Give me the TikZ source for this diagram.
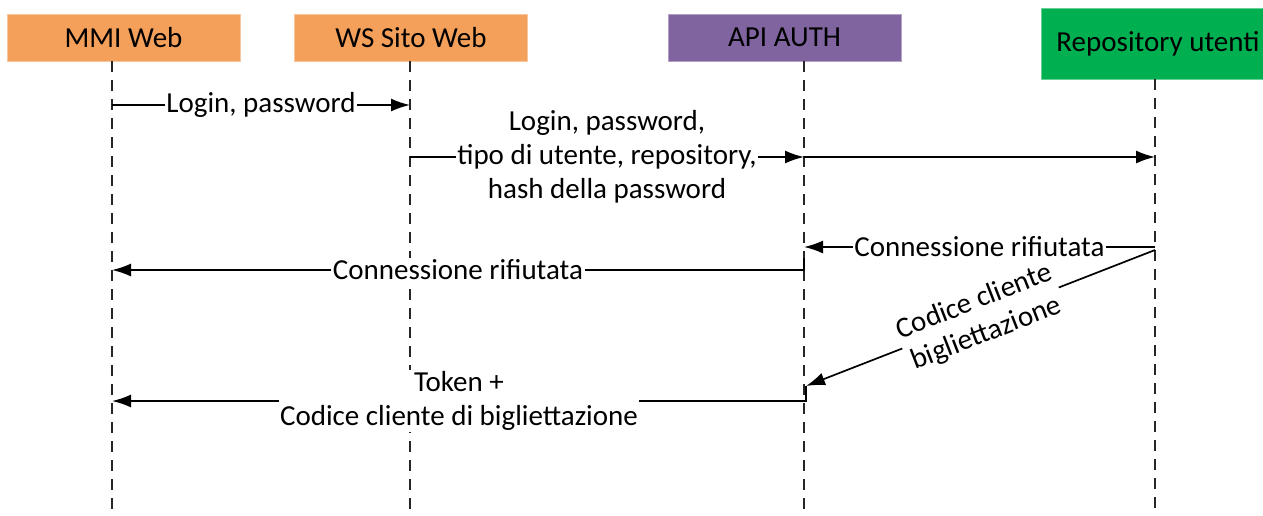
\documentclass[tikz,border=0pt]{standalone}
\usepackage{fontspec}
\setmainfont{Carlito}
\usetikzlibrary{arrows.meta}

\definecolor{wsorange}{RGB}{244,160,90}
\definecolor{authpurple}{RGB}{128,100,160}
\definecolor{repogreen}{RGB}{0,176,80}

\tikzset{
  actor/.style={minimum height=47pt, minimum width=233pt, inner sep=0pt, line width=0.8pt,
    font=\fontsize{29}{34}\selectfont},
  lifeline/.style={line width=1.7pt, dash pattern=on 11pt off 8pt, black!85},
  msg/.style={line width=1.7pt, -{Latex[length=19pt,width=13pt]}},
  msglabel/.style={fill=white, inner sep=1.5pt, align=center, font=\fontsize{29}{34}\selectfont},
}

\begin{document}
\begin{tikzpicture}[x=1pt,y=-1pt]
\useasboundingbox (0,0) rectangle (1263,515);
\node[actor, fill=wsorange, draw=wsorange!60] (mmi) at (123.5,37.5) {MMI Web};
\node[actor, fill=wsorange, draw=wsorange!60] (ws) at (411,37.5) {WS Sito Web};
\node[actor, fill=authpurple, draw=authpurple!60] (api) at (784.5,37.5) {API AUTH};
\node[actor, fill=repogreen, draw=repogreen!60, minimum height=71pt] (repo) at (1158,43.5) {Repository utenti};

\coordinate (mmitop) at (112,61);   \coordinate (mmibot) at (112,512);
\coordinate (wstop) at (410,61);    \coordinate (wsbot) at (410,512);
\coordinate (apitop) at (804,61);   \coordinate (apibot) at (804,512);
\coordinate (repotop) at (1155,79); \coordinate (repobot) at (1155,512);
\draw[lifeline] (mmitop) -- (mmibot);
\draw[lifeline] (wstop) -- (wsbot);
\draw[lifeline] (apitop) -- (apibot);
\draw[lifeline] (repotop) -- (repobot);

\coordinate (mmi1) at (112,105);  \coordinate (ws1) at (410,105);
\coordinate (ws2) at (410,157);   \coordinate (api2) at (804,157);
\coordinate (repo2) at (1155,157);
\coordinate (repo3) at (1155,247); \coordinate (api3) at (804,247);
\coordinate (api4) at (804,258);   \coordinate (mmi4) at (112,270);
\coordinate (repo5) at (1155,250); \coordinate (api5) at (806,386);
\coordinate (mmi6) at (112,401);

\draw[msg] (mmi1) -- node[msglabel] {Login, password} (ws1);
\draw[msg] (ws2) -- node[msglabel] {Login, password,\\tipo di utente, repository,\\hash della password} (api2);
\draw[msg] (api2) -- (repo2);
\draw[msg] (repo3) -- node[msglabel] {Connessione rifiutata} (api3);
\draw[msg] (api4) |- node[msglabel, pos=0.75] {Connessione rifiutata} (mmi4);
\draw[msg] (repo5) -- node[msglabel, sloped] {Codice cliente\\bigliettazione} (api5);
\draw[msg] (api5) |- node[msglabel, pos=0.75] {Token +\\Codice cliente di bigliettazione} (mmi6);
\end{tikzpicture}
\end{document}
